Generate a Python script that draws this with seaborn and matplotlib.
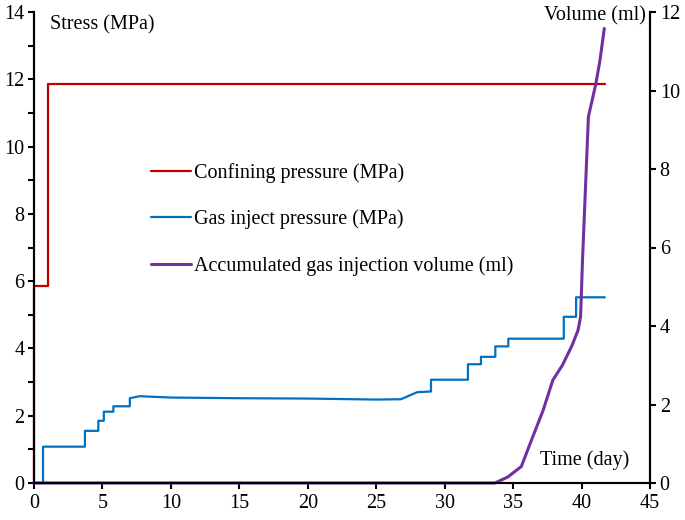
import matplotlib
matplotlib.use("Agg")
import matplotlib.pyplot as plt
import seaborn as sns
import pandas as pd

# Confining pressure (MPa) - vertices of the step trace
conf_day = [0.0, 0.0, 1.05, 1.05, 41.7]
conf_mpa = [0.0, 5.87, 5.87, 11.87, 11.87]

# Gas inject pressure (MPa)
gas_day = [0.0, 0.66, 0.66, 3.72, 3.72, 4.7, 4.7, 5.1, 5.1, 5.8, 5.8, 7.0, 7.0,
           7.7, 10.0, 15.0, 20.0, 25.0, 26.8, 28.0, 29.0, 29.0, 31.7, 31.7,
           32.65, 32.65, 33.7, 33.7, 34.65, 34.65, 38.7, 38.7, 39.6, 39.6, 41.7]
gas_mpa = [0.0, 0.0, 1.08, 1.08, 1.55, 1.55, 1.85, 1.85, 2.12, 2.12, 2.28, 2.28, 2.52,
           2.58, 2.54, 2.52, 2.51, 2.48, 2.49, 2.70, 2.72, 3.07, 3.07, 3.53,
           3.53, 3.75, 3.75, 4.06, 4.06, 4.29, 4.29, 4.94, 4.94, 5.52, 5.52]

# Accumulated gas injection volume (ml)
vol_day = [0.0, 33.67, 34.6, 35.6, 36.35, 37.2, 37.9, 38.6, 39.3, 39.75, 39.93,
           40.07, 40.25, 40.5, 41.05, 41.35, 41.66]
vol_ml = [0.0, 0.0, 0.15, 0.42, 1.1, 1.86, 2.62, 3.0, 3.5, 3.9, 4.24,
          5.68, 7.21, 9.33, 10.18, 10.78, 11.58]

labels = ["Confining pressure (MPa)", "Gas inject pressure (MPa)",
          "Accumulated gas injection volume (ml)"]
colors = ["#C00000", "#0070C0", "#7030A0"]

sns.set_theme(style="ticks")
plt.rcParams["font.family"] = ["Liberation Serif", "DejaVu Serif"]
plt.rcParams["font.size"] = 14.5
plt.rcParams["text.color"] = "black"
plt.rcParams["xtick.color"] = "black"
plt.rcParams["ytick.color"] = "black"

fig = plt.figure(figsize=(6.85, 5.2), dpi=100)
ax = fig.add_axes([34 / 685, 37 / 520, 616 / 685, 471 / 520])
ax2 = ax.twinx()

conf = pd.DataFrame({"day": conf_day, "val": conf_mpa})
gas = pd.DataFrame({"day": gas_day, "val": gas_mpa})
vol = pd.DataFrame({"day": vol_day, "val": vol_ml})

sns.lineplot(data=conf, x="day", y="val", sort=False, estimator=None, ax=ax,
             color=colors[0], lw=1.6, label=labels[0], legend=False, clip_on=False)
sns.lineplot(data=gas, x="day", y="val", sort=False, estimator=None, ax=ax,
             color=colors[1], lw=1.6, label=labels[1], legend=False, clip_on=False)
sns.lineplot(data=vol, x="day", y="val", sort=False, estimator=None, ax=ax2,
             color=colors[2], lw=2.2, label=labels[2], legend=False, clip_on=False)

ax.set_xlim(0, 45)
ax.set_ylim(0, 14)
ax2.set_ylim(0, 12)
ax.set_xticks(range(0, 46, 5))
ax.set_yticks(range(0, 15, 2))
ax.set_yticks(range(1, 14, 2), minor=True)
ax2.set_yticks(range(0, 13, 2))
ax.set_xlabel("")
ax.set_ylabel("")
ax2.set_ylabel("")

for a in (ax, ax2):
    a.spines["top"].set_visible(False)
    for s in a.spines.values():
        s.set_linewidth(1.5)
        s.set_color("black")
    a.tick_params(axis="both", which="both", direction="out", length=4, width=1.5,
                  labelsize=14.5, colors="black", labelcolor="black", pad=3)
ax.tick_params(axis="x", pad=4)
ax.grid(False)
ax2.grid(False)

ax.text(1.17, 13.63, "Stress (MPa)", ha="left", va="center", fontsize=14.5, color="black")
ax2.text(44.7, 11.9, "Volume (ml)", ha="right", va="center", fontsize=14.5, color="black")
ax.text(43.5, 0.68, "Time (day)", ha="right", va="center", fontsize=14.5, color="black")

handles = ax.get_lines()[:2] + ax2.get_lines()[:1]
leg = fig.legend(handles, labels, loc="upper left", bbox_to_anchor=(151 / 685, 1 - 163 / 520),
                 frameon=False, fontsize=14.5, handlelength=2.0, handletextpad=0.15,
                 labelspacing=1.33, borderpad=0, borderaxespad=0)
for t in leg.get_texts():
    t.set_color("black")

fig.savefig("out.png", dpi=100)
